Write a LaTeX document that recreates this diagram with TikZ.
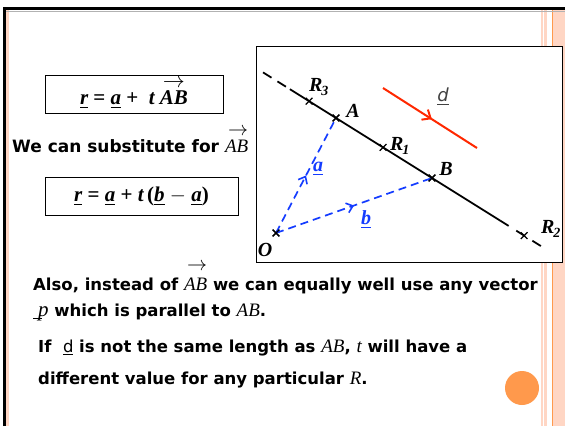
\documentclass[tikz,border=0pt]{standalone}
\usepackage{amsmath}
\usepackage{graphicx}
\usepackage{fontspec}
\setmainfont{DejaVu Sans}
\newfontfamily\tms{Liberation Serif}
\usetikzlibrary{arrows.meta,calc,decorations.markings,shapes.misc}

\definecolor{slideorange}{RGB}{255,153,76}
\definecolor{stripepink}{RGB}{255,214,196}
\definecolor{vecblue}{RGB}{20,60,255}
\definecolor{dred}{RGB}{255,40,0}

\newcommand{\mvar}[1]{{\tms\bfseries\itshape #1}}
\newcommand{\uvar}[1]{\underline{\mvar{#1}}}
\newcommand{\tvar}[1]{{\tms\mdseries\itshape\fontsize{19}{19}\selectfont #1}}
% arrow set well above a text: raise, width, text
\newcommand{\arrowover}[3]{\makebox[0pt][l]{\kern3pt\raisebox{#1}{\resizebox{#2}{!}{$\rightarrow$}}}#3}
\newcommand{\vecAB}[1]{\arrowover{#1}{20pt}{\tvar{AB}}}

\begin{document}
\begin{tikzpicture}[
    x=1pt, y=-1pt,
    pt mark/.style={
        cross out,
        draw=black,
        line width=1.2pt,
        minimum size=5.5pt,
        inner sep=0pt
    },
    pt label/.style={
        font=\fontsize{20}{20}\selectfont\tms\bfseries\itshape,
        inner sep=0pt
    },
    vec line/.style={
        draw=#1,
        line width=1.7pt,
        dash pattern=on 8pt off 5pt,
        postaction={decorate},
        decoration={markings,
            mark=at position 0.5 with {\arrow[#1, solid]{Straight Barb[length=6pt,width=10pt,line width=1.6pt]}}}
    },
    formula box/.style={
        rectangle,
        draw=black,
        line width=0.8pt,
        minimum height=38pt,
        font=\fontsize{21}{21}\selectfont\tms\bfseries\itshape,
        inner sep=0pt
    },
    body text/.style={
        font=\fontsize{16.5}{20}\selectfont\bfseries,
        anchor=base west,
        inner sep=0pt
    }
]
\useasboundingbox (0,0) rectangle (565,426);

% Slide frame and stripes
\fill[white] (0,0) rectangle (565,426);
\fill[stripepink] (6,10) rectangle (9,426);
\fill[stripepink] (541,10) rectangle (543,426);
\fill[stripepink] (544,10) rectangle (547,426);
\fill[stripepink] (553,10) rectangle (565,426);
\fill[slideorange] (551.5,10) rectangle (553,426);
\draw[line width=3pt] (4.5,426) -- (4.5,8.5) -- (565,8.5);
\draw[gray!60, line width=0.8pt] (6,11) -- (565,11);

% Diagram panel
\draw[line width=0.8pt, fill=white] (256,46) rectangle (562,262);

\node[pt mark] (A) at (336,118) {};
\node[pt mark] (B) at (432,178) {};
\node[pt mark] (O) at (276,233) {};
\coordinate (R3c) at ($(A.center)!-0.28!(B.center)$);
\coordinate (R1c) at ($(A.center)!0.49!(B.center)$);
\coordinate (R2c) at ($(A.center)!1.96!(B.center)$);
\node[pt mark] (R3) at (R3c) {};
\node[pt mark] (R1) at (R1c) {};
\node[pt mark] (R2) at (R2c) {};

% Line through A and B
\coordinate (l0) at ($(A.center)!-0.76!(B.center)$);
\coordinate (l1) at ($(A.center)!-0.48!(B.center)$);
\coordinate (l2) at ($(A.center)!1.71!(B.center)$);
\coordinate (l3) at ($(A.center)!2.16!(B.center)$);
\draw[line width=1.8pt, dash pattern=on 10pt off 7pt] (l0) -- (l1);
\draw[line width=1.8pt] (l1) -- (l2);
\draw[line width=1.8pt, dash pattern=on 10pt off 9pt] (l2) -- (l3);

% Position vectors
\draw[vec line=vecblue] (O.center) -- (A.center);
\draw[vec line=vecblue] (O.center) -- (B.center);
\node[pt mark] at (O) {};
\node[pt mark] at (A) {};
\node[pt mark] at (B) {};

% Direction vector d
\coordinate (d0) at (383,88);
\coordinate (d1) at (477,148);
\draw[dred, line width=2pt, postaction={decorate},
      decoration={markings, mark=at position 0.52 with {\arrow{Straight Barb[length=7pt,width=12pt,line width=2pt]}}}]
      (d0) -- (d1);

% Labels
\node[pt label] (labR3) at (319,87) {R\textsubscript{\fontsize{14}{14}\selectfont\kern-1pt 3}};
\node[pt label] (labA) at (353,111) {A};
\node[pt label] (labR1) at (400,146) {R\textsubscript{\fontsize{14}{14}\selectfont\kern-1pt 1}};
\node[pt label] (labB) at (446,169) {B};
\node[pt label] (labR2) at (551,229) {R\textsubscript{\fontsize{14}{14}\selectfont\kern-1pt 2}};
\node[pt label] (labO) at (265,250) {O};
\node[pt label, text=vecblue] (laba) at (318,169) {\underline{a}};
\node[pt label, text=vecblue] (labb) at (366,220) {\underline{b}};
\node[font=\fontsize{18}{18}\selectfont, text=black!75, inner sep=0pt] (labd) at (443,97) {\underline{\itshape d}};

% Formulas
\node[formula box, minimum width=178pt] (eq1) at (134,94)
    {\uvar{r} {\upshape =}\ \uvar{a} {\upshape +}\ \ \mvar{t}\ \arrowover{17pt}{22pt}{\mvar{AB}}};
\node[body text, font=\fontsize{17}{20}\selectfont\bfseries] (subst) at (12,152) {We can substitute for \vecAB{17pt}};
\node[formula box, minimum width=193pt] (eq2) at (141.5,196)
    {\uvar{r} {\upshape =}\ \uvar{a} {\upshape +}\ \mvar{t}\,{\upshape (}\uvar{b} {\upshape $-$} \uvar{a}{\upshape )}};

% Body text
\node[body text] (line1) at (33,290) {Also, instead of \vecAB{20pt} we can equally well use any vector};
\node[body text] (line2) at (33,316) {\underline{\hspace{9pt}}\kern-4pt{\tms\mdseries\itshape\fontsize{21}{21}\selectfont p} which is parallel to \tvar{AB}.};
\node[body text] (line3) at (38,352) {If \ {\mdseries\underline{d}} is not the same length as \tvar{AB}, \tvar{t} will have a};
\node[body text] (line4) at (38,384) {different value for any particular \tvar{R}.};

% Decoration
\fill[slideorange] (522,388) circle (17);
\end{tikzpicture}
\end{document}
